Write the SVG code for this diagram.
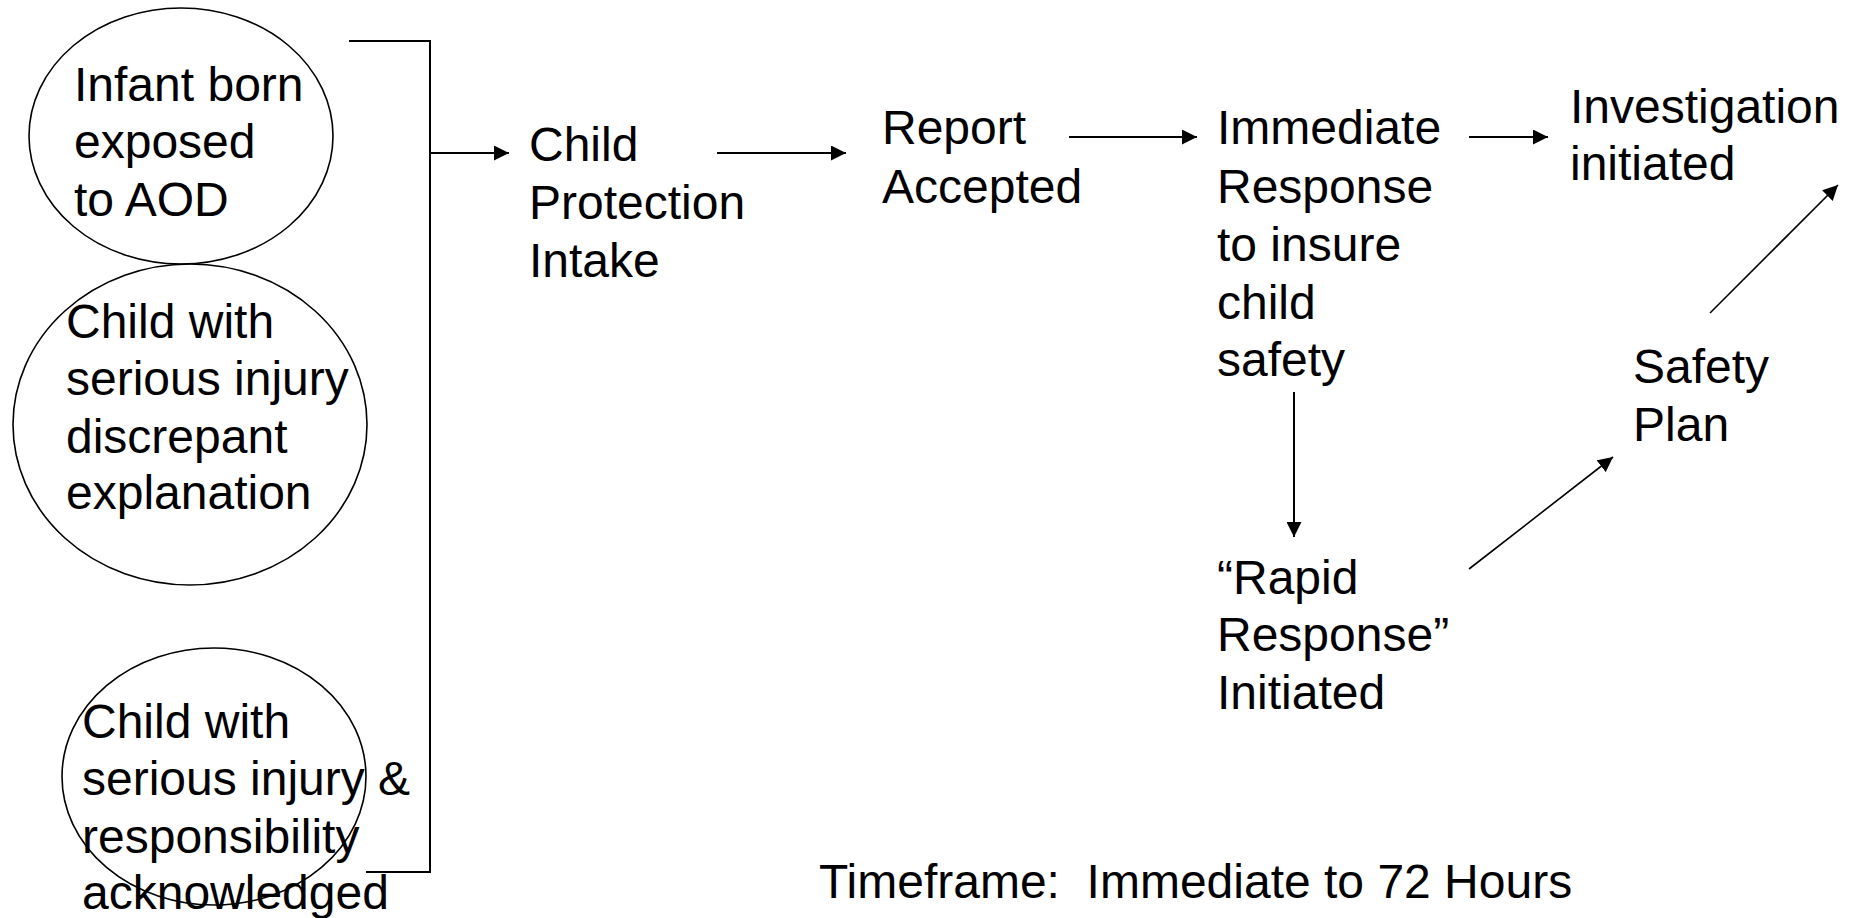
<svg xmlns="http://www.w3.org/2000/svg" width="1856" height="918" viewBox="0 0 1856 918">
<style>
  text { font-family: "Liberation Sans", Arial, sans-serif; font-size: 48px; fill: #000; }
  .oval { fill: none; stroke: #000; stroke-width: 1.6; }
  .ln { fill: none; stroke: #000; stroke-width: 2; }
  .diag { fill: none; stroke: #000; stroke-width: 1.6; }
</style>
<defs>
  <marker id="ah" markerUnits="userSpaceOnUse" markerWidth="15" markerHeight="15" refX="15" refY="7.5" orient="auto">
    <path d="M0,0 L15,7.5 L0,15 z" fill="#000"/>
  </marker>
</defs>
<rect width="1856" height="918" fill="#fff"/>

<g id="n-infant">
  <ellipse class="oval" cx="181" cy="136" rx="152" ry="128"/>
  <text x="74" y="101">Infant born</text>
  <text x="74" y="158">exposed</text>
  <text x="74" y="216">to AOD</text>
</g>
<g id="n-discrepant">
  <ellipse class="oval" cx="190" cy="424.5" rx="177" ry="160.5"/>
  <text x="66" y="338">Child with</text>
  <text x="66" y="395">serious injury</text>
  <text x="66" y="453">discrepant</text>
  <text x="66" y="509">explanation</text>
</g>
<g id="n-acknowledged">
  <ellipse class="oval" cx="214" cy="776.5" rx="152" ry="128.5"/>
  <text x="82" y="738">Child with</text>
  <text x="82" y="795">serious injury &amp;</text>
  <text x="82" y="853">responsibility</text>
  <text x="82" y="909">acknowledged</text>
</g>
<g id="n-intake">
  <text x="529" y="161">Child</text>
  <text x="529" y="219">Protection</text>
  <text x="529" y="277">Intake</text>
</g>
<g id="n-report">
  <text x="882" y="144">Report</text>
  <text x="882" y="203">Accepted</text>
</g>
<g id="n-immediate">
  <text x="1217" y="144">Immediate</text>
  <text x="1217" y="203">Response</text>
  <text x="1217" y="261">to insure</text>
  <text x="1217" y="319">child</text>
  <text x="1217" y="376">safety</text>
</g>
<g id="n-investigation">
  <text x="1570" y="123">Investigation</text>
  <text x="1570" y="180">initiated</text>
</g>
<g id="n-safety">
  <text x="1633" y="383">Safety</text>
  <text x="1633" y="441">Plan</text>
</g>
<g id="n-rapid">
  <text x="1217" y="594">“Rapid</text>
  <text x="1217" y="651">Response”</text>
  <text x="1217" y="709">Initiated</text>
</g>
<g id="n-timeframe">
  <text x="819" y="898" xml:space="preserve">Timeframe:  Immediate to 72 Hours</text>
</g>

<g id="connectors">
  <polyline class="ln" points="349,41 430,41 430,872 366,872"/>
  <line class="ln" x1="430" y1="153" x2="509" y2="153" marker-end="url(#ah)"/>
  <line class="ln" x1="717" y1="153" x2="846" y2="153" marker-end="url(#ah)"/>
  <line class="ln" x1="1069" y1="137" x2="1197" y2="137" marker-end="url(#ah)"/>
  <line class="ln" x1="1469" y1="137" x2="1548" y2="137" marker-end="url(#ah)"/>
  <line class="ln" x1="1294" y1="392" x2="1294" y2="537" marker-end="url(#ah)"/>
  <line class="diag" x1="1469" y1="569" x2="1613" y2="457" marker-end="url(#ah)"/>
  <line class="diag" x1="1710" y1="313" x2="1838" y2="185" marker-end="url(#ah)"/>
</g>
</svg>
